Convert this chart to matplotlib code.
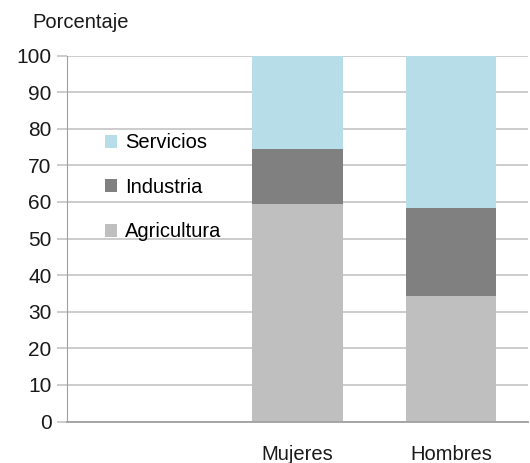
import numpy as np
import matplotlib.pyplot as plt

plt.rcParams['font.family'] = ['Liberation Sans', 'DejaVu Sans']

# sector shares by sex (percent); first slot is left empty for the legend
groups = ['', 'Mujeres', 'Hombres']
agricultura = [0, 59.4, 34.2]
industria = [0, 15.2, 24.1]
servicios = [0, 25.4, 41.7]

c_agri = '#bfbfbf'
c_ind = '#808080'
c_serv = '#b7dde8'

fig = plt.figure(figsize=(5.3, 4.63), dpi=100)
ax = fig.add_axes([0.1264, 0.0896, 0.8696, 0.7904])

x = np.arange(len(groups))
agri = np.array(agricultura)
ind = np.array(industria)
serv = np.array(servicios)
w = 0.59

b1 = ax.bar(x, agri, w, color=c_agri, label='Agricultura', zorder=2)
b2 = ax.bar(x, ind, w, bottom=agri, color=c_ind, label='Industria', zorder=2)
b3 = ax.bar(x, serv, w, bottom=agri + ind, color=c_serv, label='Servicios', zorder=2)

ax.set_xlim(-0.5, 2.5)
ax.set_ylim(0, 100)
ax.set_yticks(range(0, 101, 10))
ax.set_xticks(x[1:])
ax.set_xticklabels(groups[1:])

ax.grid(axis='y', color='#c8c8c8', linewidth=1.3, zorder=0)
ax.set_axisbelow(True)
for s in ['top', 'right']:
    ax.spines[s].set_visible(False)
ax.spines['left'].set_color('#a0a0a0')
ax.spines['bottom'].set_color('#a0a0a0')
ax.spines['bottom'].set_linewidth(1.3)
ax.tick_params(axis='y', length=7, color='#c8c8c8', width=1.3, labelsize=15, pad=4, labelcolor='#1a1a1a')
ax.tick_params(axis='x', length=0, labelsize=14.5, pad=17, labelcolor='#1a1a1a')

fig.text(0.062, 0.952, 'Porcentaje', fontsize=14.5, ha='left', va='center', color='#1a1a1a')

ax.legend([b3, b2, b1], ['Servicios', 'Industria', 'Agricultura'],
          frameon=False, loc='upper left', bbox_to_anchor=(0.198, 0.712),
          bbox_transform=fig.transFigure, fontsize=14.5,
          handlelength=0.6, handleheight=0.6, handletextpad=0.4,
          labelspacing=1.27, borderaxespad=0, borderpad=0)

fig.savefig('out.png', dpi=100)
